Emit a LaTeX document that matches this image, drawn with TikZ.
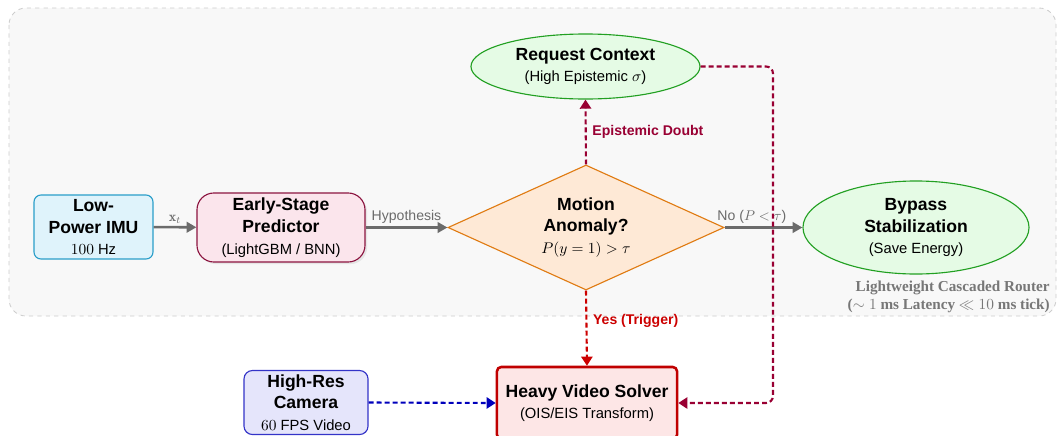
\documentclass[tikz,border=0pt]{standalone}
\usepackage{fontspec}
\setsansfont{Liberation Sans}
\newfontfamily\notefont{Liberation Serif}
\usetikzlibrary{shapes.geometric,arrows.meta,shadows}
\definecolor{bgfill}{HTML}{F8F8F8}
\definecolor{bgline}{HTML}{CCCCCC}
\definecolor{imufill}{HTML}{DFF3FB}
\definecolor{imuline}{HTML}{2A9EC9}
\definecolor{predfill}{HTML}{FBE5EC}
\definecolor{predline}{HTML}{8C1540}
\definecolor{diafill}{HTML}{FEE9D6}
\definecolor{dialine}{HTML}{E07B12}
\definecolor{elfill}{HTML}{E5FBE5}
\definecolor{elline}{HTML}{22A022}
\definecolor{heavyfill}{HTML}{FDE6E6}
\definecolor{heavyline}{HTML}{C00000}
\definecolor{camfill}{HTML}{E5E5FB}
\definecolor{camline}{HTML}{3434C8}
\definecolor{flowgray}{HTML}{6B6B6B}
\definecolor{maroon}{HTML}{990033}
\definecolor{trigred}{HTML}{CC0000}
\definecolor{camblue}{HTML}{0000BB}
\definecolor{notegray}{HTML}{777777}
\newcommand{\ttl}{\fontsize{12.5}{14.5}\selectfont\bfseries}
\newcommand{\subt}{\fontsize{10.5}{14}\selectfont\mdseries}
\begin{document}
\begin{tikzpicture}[x=0.025cm,y=-0.025cm,font=\sffamily,
  box/.style={draw,align=center,inner sep=0pt,line width=0.8pt},
  flow/.style={draw=flowgray,line width=1.8pt,-{Triangle[length=7pt,width=7.5pt]}},
  dflow/.style={line width=1.5pt,dash pattern=on 3.5pt off 2.2pt,-{Triangle[length=6.5pt,width=8pt]}},
  lbl/.style={font=\sffamily\fontsize{10}{12}\selectfont,text=flowgray,inner sep=2pt},
  blbl/.style={font=\sffamily\bfseries\fontsize{10}{12}\selectfont,inner sep=2pt}
]
\useasboundingbox (0,0) rectangle (1058,435);
\clip (0,0) rectangle (1058,435);

% background region
\draw[fill=bgfill,draw=bgline,dashed,line width=0.6pt,rounded corners=12pt] (9,8) rectangle (1056,316);
\node[anchor=north east,align=right,text=notegray,font=\notefont\bfseries\fontsize{10.8}{12.5}\selectfont,inner sep=0pt] (note) at (1050,281)
  {Lightweight Cascaded Router\\($\sim 1$ ms Latency $\ll 10$ ms tick)};

% nodes
\node[box,fill=imufill,draw=imuline,rounded corners=5pt,minimum width=2.975cm,minimum height=1.6cm] (imu) at (93.5,227)
  {\ttl Low-\\[3.5pt]\ttl Power IMU\\[3.5pt]\subt $100$ Hz};
\node[box,fill=predfill,draw=predline,rounded corners=12pt,minimum width=4.2cm,minimum height=1.725cm,
  drop shadow={opacity=0.15,shadow xshift=1.5pt,shadow yshift=-1.5pt}] (pred) at (281,227.5)
  {\ttl Early-Stage\\[3.5pt]\ttl Predictor\\[3.5pt]\subt (LightGBM / BNN)};
\node[diamond,box,fill=diafill,draw=dialine,aspect=2.2,minimum width=6.9cm,minimum height=3.125cm] (dia) at (586,227.5)
  {\ttl Motion\\[3.5pt]\ttl Anomaly?\\[3.5pt]\subt $P(y=1)>\tau$};
\node[ellipse,box,fill=elfill,draw=elline,minimum width=5.725cm,minimum height=1.625cm] (req) at (585.5,66.5)
  {\ttl Request Context\\[3pt]\subt (High Epistemic $\sigma$)};
\node[ellipse,box,fill=elfill,draw=elline,minimum width=5.65cm,minimum height=2.325cm] (byp) at (916,227.5)
  {\ttl Bypass\\[3.5pt]\ttl Stabilization\\[3.5pt]\subt (Save Energy)};
\node[box,fill=heavyfill,draw=heavyline,line width=1.8pt,rounded corners=3pt,minimum width=4.5cm,minimum height=1.8cm] (heavy) at (587,403)
  {\ttl Heavy Video Solver\\[3pt]\subt (OIS/EIS Transform)};
\node[box,fill=camfill,draw=camline,rounded corners=6pt,minimum width=3.1cm,minimum height=1.6cm] (cam) at (306,402.5)
  {\ttl High-Res\\[3.5pt]\ttl Camera\\[3.5pt]\subt $60$ FPS Video};
\coordinate (turnA) at (773,66.5);
\coordinate (turnB) at (773,403);

% connectors
\draw[flow] (imu) -- node[lbl,above] {$\mathbf{x}_t$} (pred);
\draw[flow] (pred) -- node[lbl,above] {Hypothesis} (dia);
\draw[flow] (dia) -- node[lbl,above,pos=0.35] {No ($P<\tau$)} (byp);
\draw[dflow,maroon] (dia.north) -- node[blbl,right,text=maroon,xshift=2pt] {Epistemic Doubt} (req.south);
\draw[dflow,trigred] (dia.south) -- node[blbl,right,text=trigred,xshift=2pt,pos=0.4] {Yes (Trigger)} (heavy.north);
\draw[dflow,maroon,rounded corners=5pt] (req.east) -- (turnA) -- (turnB) -- (heavy.east);
\draw[dflow,camblue] (cam.east) -- (heavy.west);
\end{tikzpicture}
\end{document}
